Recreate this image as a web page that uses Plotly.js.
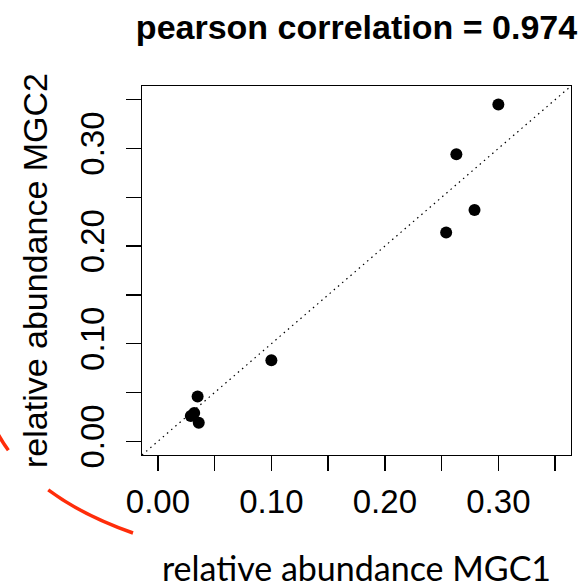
<!DOCTYPE html>
<html>
<head>
<meta charset="utf-8">
<script src="https://cdn.plot.ly/plotly-3.0.1.min.js"></script>
<style>html,body{margin:0;padding:0;background:#fff;}</style>
</head>
<body>
<div id="chart" style="width:585px;height:588px;"></div>
<script>
// ---- data ----
const mgc1 = [0.300, 0.263, 0.279, 0.254, 0.100, 0.035, 0.032, 0.029, 0.036];
const mgc2 = [0.345, 0.294, 0.237, 0.214, 0.083, 0.046, 0.029, 0.026, 0.019];
const tickValues = [0, 0.05, 0.10, 0.15, 0.20, 0.25, 0.30, 0.35];
const tickLabels = ['0.00', '', '0.10', '', '0.20', '', '0.30', ''];
const axisRange = [-0.014, 0.364];
const titleText = 'pearson correlation = 0.974';
const xTitle = 'relative abundance MGC1';
const yTitle = 'relative abundance MGC2';

// ---- layout geometry ----
const W = 585, H = 588;
const M = {l: 142, r: 14, t: 86, b: 133};
const pw = W - M.l - M.r, ph = H - M.t - M.b;
function px(x) { return (x - M.l) / pw; }
function py(y) { return (H - M.b - y) / ph; }

// red hand-drawn arc (quadratic bezier in pixel space), split where hidden by the y title
const P0 = [-2, 434], C = [33.7, 498.3], P2 = [133, 533];
function bez(t) {
  const a = (1 - t) * (1 - t), b = 2 * t * (1 - t), c = t * t;
  return [a * P0[0] + b * C[0] + c * P2[0], a * P0[1] + b * C[1] + c * P2[1]];
}
function ctrl(t0, t1) {
  const a = (1 - t0) * (1 - t1), b = (1 - t0) * t1 + t0 * (1 - t1), c = t0 * t1;
  return [a * P0[0] + b * C[0] + c * P2[0], a * P0[1] + b * C[1] + c * P2[1]];
}
function seg(t0, t1) {
  const s = bez(t0), e = bez(t1), k = ctrl(t0, t1);
  return 'M ' + px(s[0]) + ',' + py(s[1]) + ' Q ' + px(k[0]) + ',' + py(k[1]) + ' ' + px(e[0]) + ',' + py(e[1]);
}
const redLine = {color: '#ff2d0a', width: 3.5};

const traces = [
  {
    x: axisRange, y: axisRange, type: 'scatter', mode: 'lines',
    line: {color: 'black', width: 1.2, dash: '1.5px,4px'},
    hoverinfo: 'skip', showlegend: false
  },
  {
    x: mgc1, y: mgc2, type: 'scatter', mode: 'markers',
    marker: {color: 'black', size: 12, line: {width: 0}},
    showlegend: false
  }
];

const tickFont = {family: 'Liberation Sans, Arial, sans-serif', size: 33, color: 'black'};
const common = {
  range: axisRange, tickmode: 'array', tickvals: tickValues, ticktext: tickLabels,
  ticks: 'outside', ticklen: 15, tickwidth: 1.3, tickcolor: 'black',
  showline: true, mirror: true, linewidth: 1.3, linecolor: 'black',
  showgrid: false, zeroline: false, tickfont: tickFont, fixedrange: true
};

const layout = {
  width: W, height: H, margin: M,
  paper_bgcolor: 'white', plot_bgcolor: 'white',
  showlegend: false,
  title: {
    text: titleText,
    font: {family: 'Liberation Sans, Arial, sans-serif', size: 34, color: 'black', weight: 'bold'},
    x: 0.5, xref: 'paper', xanchor: 'center',
    y: 1 - 27 / H, yref: 'container', yanchor: 'middle'
  },
  xaxis: Object.assign({}, common, {
    ticklabelstandoff: 2,
    title: {text: xTitle, font: {family: 'Lato, sans-serif', size: 34, color: 'black'}, standoff: 40}
  }),
  yaxis: Object.assign({}, common, {
    tickangle: -90, ticklabelstandoff: 9,
    title: {text: yTitle, font: {family: 'Liberation Sans, Arial, sans-serif', size: 34, color: 'black'}, standoff: 15}
  }),
  shapes: [
    {type: 'path', xref: 'paper', yref: 'paper', path: seg(0, 0.13), line: redLine, layer: 'above'},
    {type: 'path', xref: 'paper', yref: 'paper', path: seg(0.49, 1), line: redLine, layer: 'above'}
  ]
};

Plotly.newPlot('chart', traces, layout, {staticPlot: true, displayModeBar: false});
</script>
</body>
</html>
